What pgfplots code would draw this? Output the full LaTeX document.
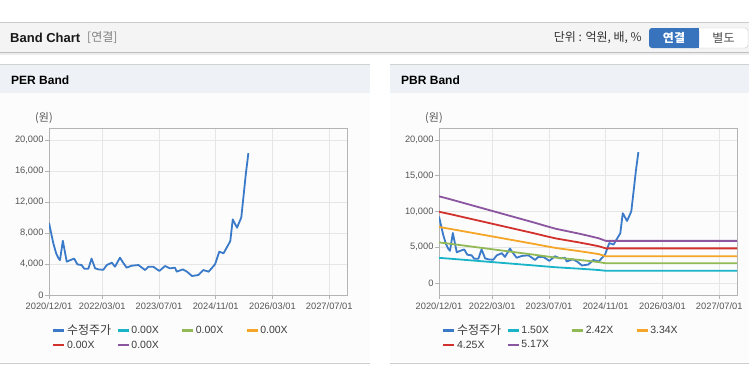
\documentclass[border=0pt]{standalone}
\usepackage{pgfplots}
\pgfplotsset{compat=1.18}
\usepackage{pgfplotstable}
\usepackage{fontspec}
\setmainfont{Liberation Sans}
\newfontfamily\kr{Noto Sans CJK KR}

\definecolor{pricec}{RGB}{58,122,200}
\definecolor{cyanc}{RGB}{26,180,200}
\definecolor{greenc}{RGB}{145,185,85}
\definecolor{orangec}{RGB}{245,165,40}
\definecolor{redc}{RGB}{210,50,45}
\definecolor{purplec}{RGB}{140,85,160}
\definecolor{gridc}{RGB}{230,230,230}
\definecolor{axisc}{RGB}{180,180,180}
\definecolor{labc}{RGB}{85,85,85}
\definecolor{legc}{RGB}{60,60,60}
\definecolor{topband}{RGB}{244,244,244}
\definecolor{panelband}{RGB}{238,242,247}
\definecolor{linec}{RGB}{204,204,204}
\definecolor{btnblue}{RGB}{56,116,190}

\pgfplotstableread{
m p
0 9300
1.2 6700
2.0 5400
2.6 4800
3.1 4500
3.9 7000
5.0 4300
6.0 4500
7.1 4700
8.0 3950
9.2 3870
9.9 3400
11.1 3400
12.0 4700
13.0 3440
14.0 3300
15.3 3250
16.3 3870
17.7 4170
18.6 3650
20.0 4820
21.0 4100
21.9 3530
23.3 3780
25.2 3870
26.2 3530
27.1 3220
28.0 3650
29.4 3650
31.1 3100
32.7 3740
34.1 3440
35.5 3530
36.0 3010
37.7 3310
38.9 3010
40.3 2450
42.1 2580
43.5 3220
45.0 3010
46.8 3960
48.0 5590
49.2 5380
51.1 6950
51.8 9760
53.0 8680
54.2 10000
54.8 12600
55.5 15700
56.2 18300
}\price

\pgfplotstableread{
m b1 b2 b3 b4 b5
0 3518 5675 7832 9966 12124
3 3405 5493 7582 9648 11736
6 3285 5300 7315 9308 11322
9 3165 5106 7047 8968 10909
12 3045 4913 6780 8628 10495
15 2925 4719 6513 8288 10082
18 2805 4525 6246 7948 9668
21 2685 4332 5979 7608 9254
24 2565 4138 5711 7268 8841
27 2445 3945 5444 6928 8427
30 2318 3739 5160 6566 7988
33 2198 3545 4893 6226 7574
36 2108 3400 4693 5971 7264
39 2018 3255 4492 5716 6954
42 1920 3098 4275 5440 6618
45 1815 2928 4041 5143 6256
47 1710 2759 3740 4845 5894
84 1710 2759 3740 4845 5894
}\bands

\newcommand{\lt}[1]{\makebox[48pt][l]{#1}}
\newcommand{\lk}[1]{\makebox[48pt][l]{\kr\fontsize{12}{12}\selectfont #1}}

\pgfplotsset{
  bandaxis/.style={
    scale only axis, width=298pt, height=167pt,
    xmin=0, xmax=84,
    xtick={0,15,31,47,63,79},
    xticklabels={2020/12/01,2022/03/01,2023/07/01,2024/11/01,2026/03/01,2027/07/01},
    scaled y ticks=false, scaled x ticks=false,
    grid=major,
    major grid style={draw=gridc, line width=0.6pt},
    axis line style={draw=axisc, line width=0.9pt},
    tick style={draw=axisc, line width=0.6pt},
    tick align=outside, major tick length=4pt, tick pos=left,
    ticklabel style={font=\fontsize{9.3}{10}\selectfont, text=labc},
    yticklabel style={xshift=2pt},
    /pgf/number format/assume math mode=true,
    every axis plot/.append style={line width=1.8pt, line join=round},
    legend columns=4,
    legend style={draw=none, fill=none, at={(0.01,-0.168)}, anchor=north west,
      inner sep=0pt, row sep=1.5pt, font=\fontsize{10.5}{12}\selectfont, text=legc,
      nodes={inner sep=1.5pt}},
    legend image code/.code={\draw[##1, line width=2.4pt] (0pt,0pt) -- (11pt,0pt);},
  }
}

\begin{document}
\begin{tikzpicture}
\useasboundingbox (0,0) rectangle (749pt,-364pt);
\fill[white] (0,0) rectangle (749pt,-364pt);
% top band
\fill[topband] (0,-22pt) rectangle (749pt,-52pt);
\fill[black!7] (0,-52pt) rectangle (749pt,-55pt);
\draw[linec, line width=1pt] (0,-22pt) -- (749pt,-22pt);
\draw[black!25, line width=1pt] (0,-52pt) -- (749pt,-52pt);
\node[anchor=west, inner sep=0pt, font=\bfseries\fontsize{13}{14}\selectfont, text=black!90] at (10pt,-38pt) {Band Chart};
\node[anchor=west, inner sep=0pt, font=\kr\fontsize{12}{12}\selectfont, text=black!50] at (87pt,-38pt) {[연결]};
\node[anchor=east, inner sep=0pt, font=\kr\fontsize{12}{12}\selectfont, text=black!80] at (642pt,-38pt) {단위 : 억원, 배, \%};
\filldraw[draw=linec, fill=white, rounded corners=3pt] (690pt,-28pt) rectangle (748pt,-48pt);
\fill[btnblue, rounded corners=3pt] (649pt,-28pt) rectangle (699pt,-48pt);
\fill[btnblue] (690pt,-28pt) rectangle (699pt,-48pt);
\node[font=\kr\bfseries\fontsize{12}{12}\selectfont, text=white] at (674pt,-38pt) {연결};
\node[font=\kr\fontsize{12}{12}\selectfont, text=black!70] at (723.5pt,-38pt) {별도};
% panels
\foreach \xa/\xb in {0/370,390/749} {
  \fill[panelband] (\xa pt,-64pt) rectangle (\xb pt,-93pt);
  \draw[black!18, line width=1pt] (\xa pt,-64pt) -- (\xb pt,-64pt);
  \fill[black!1] (\xa pt,-93pt) rectangle (\xb pt,-362pt);
  \draw[linec, line width=1pt] (\xa pt,-363pt) -- (\xb pt,-363pt);
}
\node[anchor=west, inner sep=0pt, font=\bfseries\fontsize{12}{14}\selectfont] at (11pt,-80pt) {PER Band};
\node[anchor=west, inner sep=0pt, font=\bfseries\fontsize{12}{14}\selectfont] at (401pt,-80pt) {PBR Band};
\node[font=\kr\fontsize{11}{12}\selectfont, text=labc] at (44pt,-118pt) {(원)};
\node[font=\kr\fontsize{11}{12}\selectfont, text=labc] at (434pt,-118pt) {(원)};

\begin{axis}[bandaxis, at={(49pt,-295pt)}, anchor=south west,
  ymin=0, ymax=21550,
  ytick={0,4000,8000,12000,16000,20000},
  yticklabels={0,{4,000},{8,000},{12,000},{16,000},{20,000}}]
\addplot[pricec] table[x=m,y=p] {\price};
\addlegendentry{\lk{수정주가}}
\addlegendimage{cyanc}
\addlegendentry{\lt{0.00X}}
\addlegendimage{greenc}
\addlegendentry{\lt{0.00X}}
\addlegendimage{orangec}
\addlegendentry{\lt{0.00X}}
\addlegendimage{redc}
\addlegendentry{\lt{0.00X}}
\addlegendimage{purplec}
\addlegendentry{\lt{0.00X}}
\end{axis}

\begin{axis}[bandaxis, at={(439pt,-295pt)}, anchor=south west,
  ymin=-1680, ymax=21680,
  ytick={0,5000,10000,15000,20000},
  yticklabels={0,{5,000},{10,000},{15,000},{20,000}}]
\addplot[pricec] table[x=m,y=p] {\price};
\addlegendentry{\lk{수정주가}}
\addplot[cyanc] table[x=m,y=b1] {\bands};
\addlegendentry{\lt{1.50X}}
\addplot[greenc] table[x=m,y=b2] {\bands};
\addlegendentry{\lt{2.42X}}
\addplot[orangec] table[x=m,y=b3] {\bands};
\addlegendentry{\lt{3.34X}}
\addplot[redc] table[x=m,y=b4] {\bands};
\addlegendentry{\lt{4.25X}}
\addplot[purplec] table[x=m,y=b5] {\bands};
\addlegendentry{\lt{5.17X}}
\end{axis}
\end{tikzpicture}
\end{document}
